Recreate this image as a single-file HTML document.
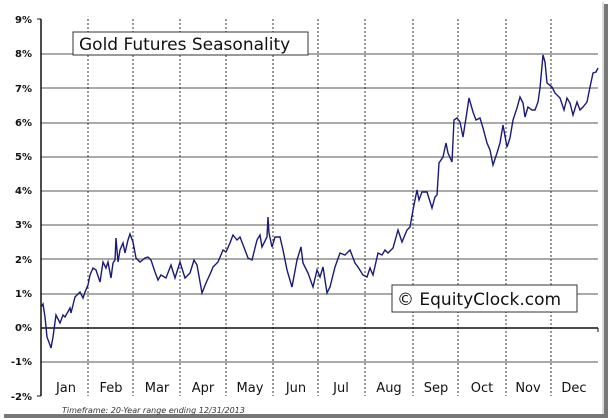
<!DOCTYPE html>
<html><head><meta charset="utf-8"><style>
html,body{margin:0;padding:0;background:#fff;}
svg{display:block;}
text{font-family:"DejaVu Sans","Liberation Sans",sans-serif;}
</style></head><body>
<svg width="613" height="420" viewBox="0 0 613 420" xmlns="http://www.w3.org/2000/svg">
<rect x="0" y="0" width="613" height="420" fill="#fff"/>
<!-- frame shadow -->
<rect x="604" y="4" width="4" height="414" fill="#777"/>
<rect x="4" y="414" width="604" height="4" fill="#777"/>
<line x1="603" y1="2" x2="603" y2="414" stroke="#bbb"/>
<!-- gridlines -->
<g stroke="#777" stroke-width="1.2">
<line x1="41" y1="54" x2="598" y2="54"/>
<line x1="41" y1="88" x2="598" y2="88"/>
<line x1="41" y1="123" x2="598" y2="123"/>
<line x1="41" y1="157" x2="598" y2="157"/>
<line x1="41" y1="191" x2="598" y2="191"/>
<line x1="41" y1="225" x2="598" y2="225"/>
<line x1="41" y1="259" x2="598" y2="259"/>
<line x1="41" y1="294" x2="598" y2="294"/>
<line x1="41" y1="362" x2="598" y2="362"/>
</g>
<g stroke="#333" stroke-width="1" stroke-dasharray="2,2">
<line x1="88" y1="19" x2="88" y2="396"/>
<line x1="133" y1="19" x2="133" y2="396"/>
<line x1="180" y1="19" x2="180" y2="396"/>
<line x1="226" y1="19" x2="226" y2="396"/>
<line x1="273" y1="19" x2="273" y2="396"/>
<line x1="318" y1="19" x2="318" y2="396"/>
<line x1="365" y1="19" x2="365" y2="396"/>
<line x1="413" y1="19" x2="413" y2="396"/>
<line x1="458" y1="19" x2="458" y2="396"/>
<line x1="506" y1="19" x2="506" y2="396"/>
<line x1="551" y1="19" x2="551" y2="396"/>
</g>
<line x1="41" y1="328" x2="598" y2="328" stroke="#111" stroke-width="1.5"/>
<line x1="598" y1="328" x2="598" y2="332" stroke="#111"/>
<line x1="41" y1="19" x2="41" y2="396" stroke="#111" stroke-width="1.5"/>
<g stroke="#111"><line x1="37" y1="19" x2="41" y2="19"/><line x1="37" y1="396" x2="41" y2="396"/></g>
<!-- y labels -->
<g font-size="10" font-weight="bold" fill="#111" text-anchor="end">
<text x="32" y="23">9%</text><text x="32" y="57">8%</text><text x="32" y="92">7%</text>
<text x="32" y="126">6%</text><text x="32" y="160">5%</text><text x="32" y="194">4%</text>
<text x="32" y="228">3%</text><text x="32" y="263">2%</text><text x="32" y="297">1%</text>
<text x="32" y="331">0%</text><text x="32" y="365">-1%</text><text x="32" y="400">-2%</text>
</g>
<g font-size="13" fill="#111" text-anchor="middle">
<text x="66" y="392">Jan</text><text x="111" y="392">Feb</text><text x="157" y="392">Mar</text>
<text x="203" y="392">Apr</text><text x="250" y="392">May</text><text x="296" y="392">Jun</text>
<text x="341" y="392">Jul</text><text x="389" y="392">Aug</text><text x="436" y="392">Sep</text>
<text x="482" y="392">Oct</text><text x="528" y="392">Nov</text><text x="574" y="392">Dec</text>
</g>
<text x="62" y="413" font-size="8" font-style="italic" fill="#333">Timeframe: 20-Year range ending 12/31/2013</text>
<!-- title -->
<rect x="73" y="32" width="235" height="23" fill="#fff" stroke="#333"/>
<text x="79" y="50" font-size="17" fill="#111">Gold Futures Seasonality</text>
<rect x="392" y="285" width="185" height="27" fill="#fff" stroke="#333"/>
<text x="397" y="305" font-size="17" fill="#111">© EquityClock.com</text>
<!-- series -->
<polyline fill="none" stroke="#1a1a7a" stroke-width="1.4" points="41,307 43,304 45,317 47,337 50,345 51,348 53,337 56,315 60,323 63,315 65,317 70,308 71,313 75,297 80,292 83,298 85,292 88,285 90,275 93,268 96,270 100,282 103,262 106,268 108,262 111,278 113,263 115,260 116,238 118,262 120,250 123,243 125,253 128,240 130,234 133,242 136,258 140,262 145,258 148,257 151,260 155,272 158,280 161,275 166,278 171,265 175,278 180,262 185,278 190,273 194,260 197,265 202,293 206,283 211,272 213,267 218,262 223,250 226,252 230,243 233,235 237,240 240,237 245,250 248,258 252,260 257,240 260,235 262,247 267,237 268,217 269,233 272,247 275,237 280,237 283,250 287,270 292,287 297,260 301,247 303,263 308,273 313,287 317,270 320,277 323,267 327,293 330,287 335,267 340,253 345,255 350,250 355,263 358,267 363,275 367,277 370,268 373,275 378,253 382,255 385,250 388,253 393,248 398,230 402,242 407,230 410,227 413,210 417,190 419,200 422,192 427,192 432,208 435,197 437,195 439,163 443,157 446,143 448,153 452,162 454,120 457,118 460,122 463,137 466,118 469,98 473,112 476,120 480,118 483,128 487,143 490,150 493,165 497,153 500,143 503,125 507,147 510,138 513,120 517,108 520,97 523,103 525,117 528,107 532,110 535,110 538,102 540,88 543,55 545,62 547,83 552,87 555,93 560,98 564,110 567,98 570,103 573,115 577,102 580,110 583,107 587,102 590,87 593,73 596,72 598,68"/>
</svg>
</body></html>
